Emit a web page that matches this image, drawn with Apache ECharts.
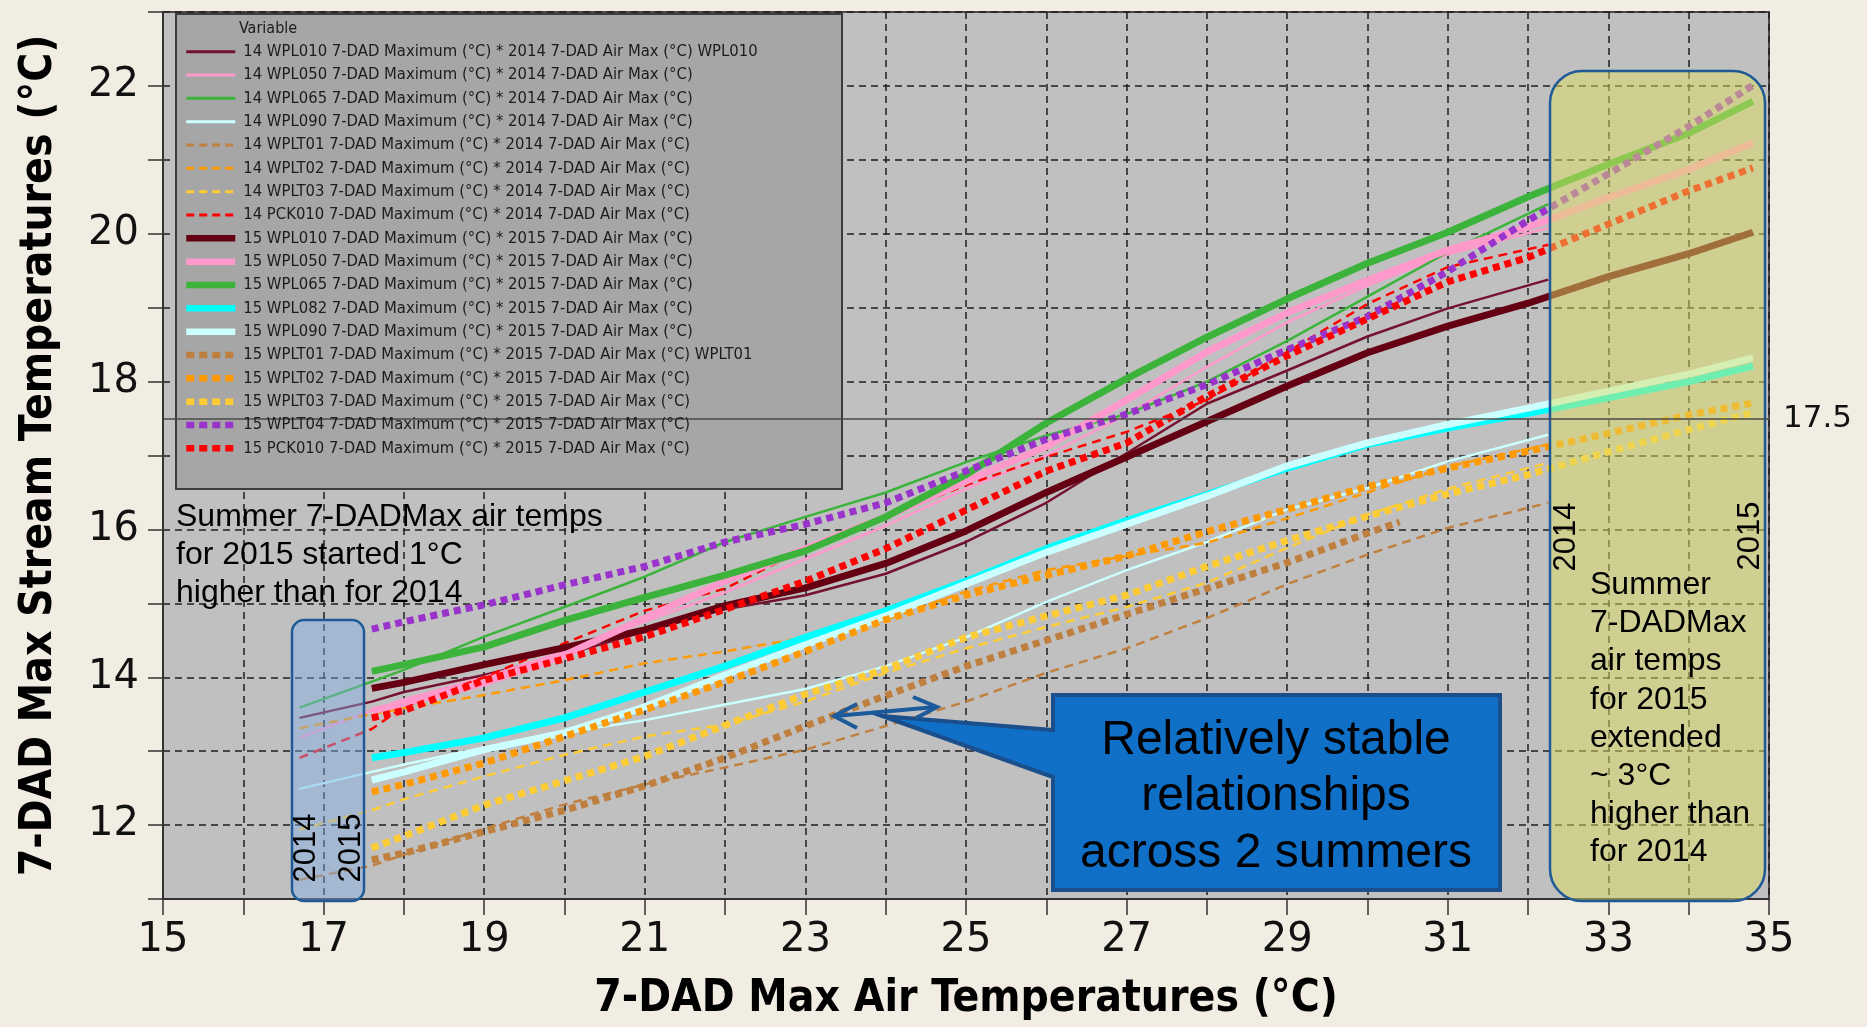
<!DOCTYPE html>
<html><head><meta charset="utf-8">
<script src="https://cdn.jsdelivr.net/npm/echarts@6/dist/echarts.min.js"></script>
<style>html,body{margin:0;padding:0;background:#f1ede3}#c{width:1867px;height:1027px}</style>
</head><body><div id="c"></div>
<script>
// ---------- data ----------
const X14 = [16.7, 17.6, 18, 19, 20, 21, 22, 23, 24, 25, 26, 27, 28, 29, 30, 31, 32.25];
const X15 = [17.6, 18, 19, 20, 21, 22, 23, 24, 25, 26, 27, 28, 29, 30, 31, 32, 33, 34, 34.8];
const X15_WPLT01 = [17.6, 18, 19, 20, 21, 22, 23, 24, 25, 26, 27, 28, 29, 30, 30.4];

const Y14_WPL010 = [13.45, 13.67, 13.8, 14.03, 14.3, 14.62, 14.92, 15.11, 15.4, 15.83, 16.36, 17.03, 17.7, 18.15, 18.61, 18.99, 19.38];
const Y14_WPL050 = [13.18, 13.55, 13.7, 14.0, 14.35, 14.75, 15.15, 15.6, 16.05, 16.55, 17.0, 17.55, 18.2, 18.8, 19.3, 19.72, 20.08];
const Y14_WPL065 = [13.59, 13.94, 14.1, 14.55, 14.95, 15.36, 15.83, 16.17, 16.5, 16.91, 17.27, 17.56, 18.0, 18.55, 19.15, 19.75, 20.4];
const Y14_WPL090 = [12.49, 12.72, 12.82, 13.05, 13.25, 13.42, 13.63, 13.84, 14.15, 14.54, 15.02, 15.45, 15.83, 16.27, 16.56, 16.92, 17.28];
const Y14_WPLT01 = [11.26, 11.45, 11.6, 11.95, 12.28, 12.55, 12.78, 13.02, 13.34, 13.67, 14.06, 14.39, 14.8, 15.26, 15.66, 16.02, 16.36];
const Y14_WPLT02 = [13.31, 13.5, 13.58, 13.76, 13.96, 14.19, 14.35, 14.54, 14.78, 15.16, 15.45, 15.64, 15.82, 16.15, 16.5, 16.85, 17.15];
const Y14_WPLT03 = [11.94, 12.2, 12.35, 12.66, 12.95, 13.2, 13.36, 13.67, 14.06, 14.39, 14.68, 14.95, 15.28, 15.75, 16.2, 16.55, 16.9];
const Y14_PCK010 = [12.91, 13.3, 13.6, 14.0, 14.46, 14.9, 15.2, 15.74, 16.17, 16.6, 16.98, 17.32, 17.75, 18.4, 19.05, 19.55, 19.85];

const Y15_WPL010 = [13.85, 13.93, 14.17, 14.4, 14.64, 14.97, 15.21, 15.54, 15.98, 16.5, 16.98, 17.46, 17.94, 18.39, 18.75, 19.06, 19.42, 19.73, 20.02];
const Y15_WPL050 = [13.54, 13.65, 13.92, 14.3, 14.8, 15.3, 15.74, 16.17, 16.65, 17.12, 17.75, 18.4, 18.93, 19.37, 19.78, 20.09, 20.49, 20.87, 21.23];
const Y15_WPL065 = [14.08, 14.17, 14.41, 14.77, 15.08, 15.38, 15.71, 16.17, 16.74, 17.44, 18.04, 18.6, 19.12, 19.6, 20.02, 20.5, 20.94, 21.36, 21.79];
const Y15_WPL082 = [12.91, 12.98, 13.18, 13.45, 13.8, 14.15, 14.54, 14.9, 15.3, 15.74, 16.12, 16.47, 16.83, 17.15, 17.37, 17.57, 17.78, 18.0, 18.21];
const Y15_WPL090 = [12.61, 12.72, 13.02, 13.25, 13.6, 14.03, 14.44, 14.83, 15.26, 15.69, 16.07, 16.45, 16.86, 17.17, 17.42, 17.64, 17.87, 18.1, 18.32];
const Y15_WPLT01 = [11.53, 11.62, 11.91, 12.2, 12.53, 12.91, 13.34, 13.75, 14.15, 14.5, 14.85, 15.2, 15.55, 15.95, 16.1];
const Y15_WPLT02 = [12.45, 12.55, 12.84, 13.2, 13.56, 13.94, 14.35, 14.78, 15.11, 15.38, 15.64, 15.97, 16.27, 16.58, 16.83, 17.06, 17.3, 17.55, 17.71];
const Y15_WPLT03 = [11.69, 11.85, 12.27, 12.6, 12.93, 13.35, 13.77, 14.11, 14.54, 14.83, 15.11, 15.5, 15.85, 16.18, 16.48, 16.74, 17.05, 17.35, 17.58];
const Y15_WPLT04 = [14.65, 14.75, 14.98, 15.25, 15.5, 15.83, 16.07, 16.36, 16.79, 17.22, 17.56, 17.96, 18.43, 18.88, 19.49, 20.18, 20.81, 21.45, 22.01];
const Y15_PCK010 = [13.45, 13.55, 13.96, 14.25, 14.55, 14.92, 15.3, 15.74, 16.26, 16.79, 17.17, 17.8, 18.35, 18.85, 19.35, 19.68, 20.13, 20.58, 20.89];

const X_TICK_LABELS = [15, 17, 19, 21, 23, 25, 27, 29, 31, 33, 35];
const Y_TICK_LABELS = [12, 14, 16, 18, 20, 22];
const REF_LINE = 17.5;

const NAMES = [
  '14 WPL010 7-DAD Maximum (°C) * 2014 7-DAD Air Max (°C) WPL010',
  '14 WPL050 7-DAD Maximum (°C) * 2014 7-DAD Air Max (°C)',
  '14 WPL065 7-DAD Maximum (°C) * 2014 7-DAD Air Max (°C)',
  '14 WPL090 7-DAD Maximum (°C) * 2014 7-DAD Air Max (°C)',
  '14 WPLT01 7-DAD Maximum (°C) * 2014 7-DAD Air Max (°C)',
  '14 WPLT02 7-DAD Maximum (°C) * 2014 7-DAD Air Max (°C)',
  '14 WPLT03 7-DAD Maximum (°C) * 2014 7-DAD Air Max (°C)',
  '14 PCK010 7-DAD Maximum (°C) * 2014 7-DAD Air Max (°C)',
  '15 WPL010 7-DAD Maximum (°C) * 2015 7-DAD Air Max (°C)',
  '15 WPL050 7-DAD Maximum (°C) * 2015 7-DAD Air Max (°C)',
  '15 WPL065 7-DAD Maximum (°C) * 2015 7-DAD Air Max (°C)',
  '15 WPL082 7-DAD Maximum (°C) * 2015 7-DAD Air Max (°C)',
  '15 WPL090 7-DAD Maximum (°C) * 2015 7-DAD Air Max (°C)',
  '15 WPLT01 7-DAD Maximum (°C) * 2015 7-DAD Air Max (°C) WPLT01',
  '15 WPLT02 7-DAD Maximum (°C) * 2015 7-DAD Air Max (°C)',
  '15 WPLT03 7-DAD Maximum (°C) * 2015 7-DAD Air Max (°C)',
  '15 WPLT04 7-DAD Maximum (°C) * 2015 7-DAD Air Max (°C)',
  '15 PCK010 7-DAD Maximum (°C) * 2015 7-DAD Air Max (°C)'
];

// ---------- styling ----------
const THIN = 2.5, THICK = 7;
const DASH = [9, 6], DOT = [7, 5];
const spec = [
  [X14, Y14_WPL010, '#74122f', THIN, 'solid'],
  [X14, Y14_WPL050, '#ff99cc', THIN, 'solid'],
  [X14, Y14_WPL065, '#3cb43c', THIN, 'solid'],
  [X14, Y14_WPL090, '#ccffff', THIN, 'solid'],
  [X14, Y14_WPLT01, '#c08040', THIN, DASH],
  [X14, Y14_WPLT02, '#ff9900', THIN, DASH],
  [X14, Y14_WPLT03, '#ffcc33', THIN, DASH],
  [X14, Y14_PCK010, '#ff0000', THIN, DASH],
  [X15, Y15_WPL010, '#650012', THICK, 'solid'],
  [X15, Y15_WPL050, '#ff99cc', THICK, 'solid'],
  [X15, Y15_WPL065, '#3cb43c', THICK, 'solid'],
  [X15, Y15_WPL082, '#00ffff', THICK, 'solid'],
  [X15, Y15_WPL090, '#ccffff', THICK, 'solid'],
  [X15_WPLT01, Y15_WPLT01, '#bf7f3f', THICK, DOT],
  [X15, Y15_WPLT02, '#ff9900', THICK, DOT],
  [X15, Y15_WPLT03, '#ffcc33', THICK, DOT],
  [X15, Y15_WPLT04, '#9933cc', THICK, DOT],
  [X15, Y15_PCK010, '#ff0000', THICK, DOT]
];

const series = spec.map((s, i) => ({
  name: NAMES[i],
  type: 'line',
  data: s[0].map((x, k) => [x, s[1][k]]),
  symbol: 'none',
  showSymbol: false,
  color: s[2],
  lineStyle: { color: s[2], width: s[3], type: s[4] },
  z: 2,
  silent: true,
  animation: false
}));
series[0].markLine = {
  silent: true, symbol: ['none', 'none'],
  lineStyle: { color: '#4a4a4a', width: 1.6, type: 'solid' },
  label: { show: true, position: 'end', formatter: String(REF_LINE), distance: 14,
           fontSize: 31, fontFamily: 'DejaVu Sans', color: '#111' },
  data: [{ yAxis: REF_LINE }]
};

const legendData = spec.map((s, i) => ({
  name: NAMES[i],
  itemStyle: { opacity: 0 },
  lineStyle: { color: s[2], width: s[3] === THICK ? 6.5 : 3, type: s[4] === 'solid' ? 'solid' : (s[3] === THICK ? [8, 5] : [8, 5]) }
}));

const gridLine = { show: true, lineStyle: { color: '#1e1e1e', width: 1.5, type: [7, 5] } };
const sans = 'Liberation Sans, Arial, sans-serif';
const cond = 'DejaVu Sans Condensed, Liberation Sans Narrow, sans-serif';

const chart = echarts.init(document.getElementById('c'), null, { renderer: 'canvas' });
chart.setOption({
  backgroundColor: '#f1ede3',
  animation: false,
  grid: { left: 163, right: 98, top: 12, bottom: 125, show: true,
          backgroundColor: '#c0c0c0', borderColor: '#4a4a4a', borderWidth: 2 },
  xAxis: {
    type: 'value', min: 15, max: 35, interval: 1,
    axisLine: { show: true, lineStyle: { color: '#333', width: 2 } },
    axisTick: { show: true, length: 16, lineStyle: { color: '#333', width: 1.5 } },
    axisLabel: { margin: 22, fontSize: 40, fontFamily: 'DejaVu Sans', color: '#111',
      showMinLabel: true, showMaxLabel: true,
      formatter: v => X_TICK_LABELS.includes(v) ? String(v) : '' },
    splitLine: gridLine,
    name: '7-DAD Max Air Temperatures (°C)', nameLocation: 'middle', nameGap: 79,
    nameTextStyle: { fontSize: 44, lineHeight: 44, fontWeight: 'bold', fontFamily: cond, color: '#000' }
  },
  yAxis: {
    type: 'value', min: 11, max: 23, interval: 1,
    axisLine: { show: true, lineStyle: { color: '#333', width: 2 } },
    axisTick: { show: true, length: 15, lineStyle: { color: '#333', width: 1.5 } },
    axisLabel: { margin: 24, fontSize: 40, fontFamily: 'DejaVu Sans', color: '#111',
      formatter: v => Y_TICK_LABELS.includes(v) ? String(v) : '' },
    splitLine: gridLine,
    name: '7-DAD Max Stream Temperatures (°C)', nameLocation: 'middle', nameGap: 101, nameRotate: 90,
    nameTextStyle: { fontSize: 44, lineHeight: 44, fontWeight: 'bold', fontFamily: cond, color: '#000' }
  },
  legend: {
    show: true, orient: 'vertical', left: 183, top: 43.2, padding: 0,
    itemWidth: 49, itemHeight: 17, itemGap: 6.33, selectedMode: false,
    itemStyle: { opacity: 0 },
    data: legendData,
    textStyle: { fontSize: 16.5, lineHeight: 17, color: '#1c1c1c', padding: [0, 0, 0, 3], fontFamily: cond },
    z: 6
  },
  series: series,
  graphic: [
    { type: 'rect', z: 4, silent: true, shape: { x: 176, y: 14, width: 666, height: 475 },
      style: { fill: '#a6a6a6', stroke: '#3c3c3c', lineWidth: 2 } },
    { type: 'text', z: 7, silent: true, x: 239, y: 29,
      style: { text: 'Variable', fontSize: 16, fill: '#1c1c1c', verticalAlign: 'middle', fontFamily: cond } },
    { type: 'text', z: 7, silent: true, x: 176, y: 498,
      style: { text: 'Summer 7-DADMax air temps\nfor 2015 started 1°C\nhigher than for 2014',
        fontSize: 32, lineHeight: 38, fill: '#000', verticalAlign: 'top', fontFamily: sans } },
    { type: 'rect', z: 3, silent: true, shape: { x: 292, y: 620, width: 72, height: 281, r: 12 },
      style: { fill: 'rgba(130,175,230,0.45)', stroke: '#1f5a96', lineWidth: 2.5 } },
    { type: 'text', z: 7, silent: true, x: 306, y: 848, rotation: Math.PI / 2,
      style: { text: '2014', fontSize: 31, fill: '#000', align: 'center', verticalAlign: 'middle', fontFamily: sans } },
    { type: 'text', z: 7, silent: true, x: 351, y: 848, rotation: Math.PI / 2,
      style: { text: '2015', fontSize: 31, fill: '#000', align: 'center', verticalAlign: 'middle', fontFamily: sans } },
    { type: 'rect', z: 3, silent: true, shape: { x: 1550, y: 71, width: 215, height: 830, r: 32 },
      style: { fill: 'rgba(222,222,100,0.5)', stroke: '#1f5a96', lineWidth: 2.5 } },
    { type: 'text', z: 7, silent: true, x: 1566, y: 537, rotation: Math.PI / 2,
      style: { text: '2014', fontSize: 31, fill: '#000', align: 'center', verticalAlign: 'middle', fontFamily: sans } },
    { type: 'text', z: 7, silent: true, x: 1750, y: 536, rotation: Math.PI / 2,
      style: { text: '2015', fontSize: 31, fill: '#000', align: 'center', verticalAlign: 'middle', fontFamily: sans } },
    { type: 'text', z: 7, silent: true, x: 1590, y: 566,
      style: { text: 'Summer\n7-DADMax\nair temps\nfor 2015\nextended\n~ 3°C\nhigher than\nfor 2014',
        fontSize: 32, lineHeight: 38.2, fill: '#000', verticalAlign: 'top', fontFamily: sans } },
    { type: 'polygon', z: 8, silent: true,
      shape: { points: [[1053, 695], [1500, 695], [1500, 890], [1053, 890], [1053, 777], [882, 716], [1053, 730]] },
      style: { fill: '#1070c8', stroke: '#1b4f8c', lineWidth: 4 } },
    { type: 'text', z: 9, silent: true, x: 1276, y: 712,
      style: { text: 'Relatively stable\nrelationships\nacross 2 summers', fontSize: 48, lineHeight: 56.7,
        fill: '#000', align: 'center', verticalAlign: 'top', fontFamily: sans } },
    { type: 'line', z: 9, silent: true, shape: { x1: 835, y1: 716, x2: 936, y2: 707 },
      style: { stroke: '#1c5a9c', lineWidth: 4 } },
    { type: 'polyline', z: 9, silent: true, shape: { points: [[857, 704], [834, 716], [857, 728]] },
      style: { stroke: '#1c5a9c', lineWidth: 4, fill: null } },
    { type: 'polyline', z: 9, silent: true, shape: { points: [[913, 697], [937, 707], [916, 718]] },
      style: { stroke: '#1c5a9c', lineWidth: 4, fill: null } }
  ]
});
</script></body></html>
